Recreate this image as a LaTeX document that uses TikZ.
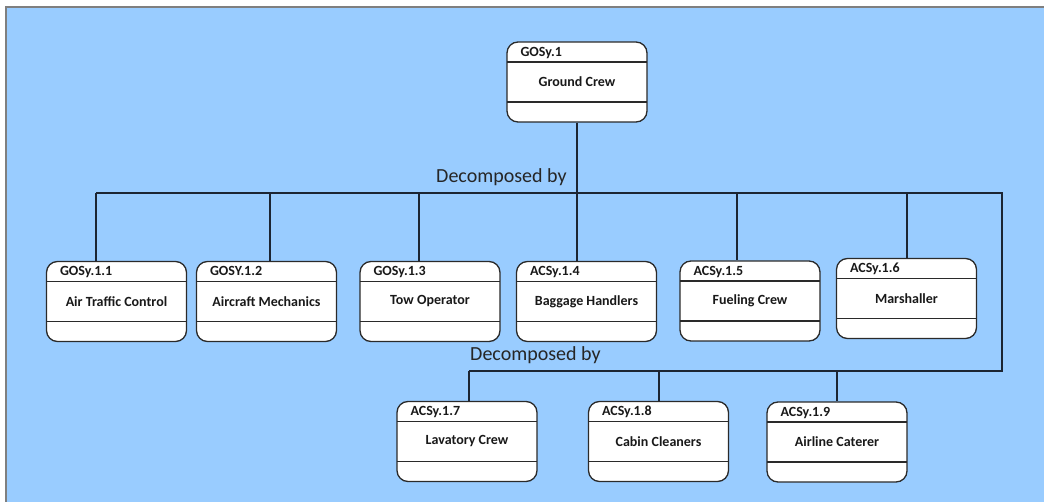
\documentclass[tikz,border=0pt]{standalone}
\usepackage{fontspec}
\setmainfont{Carlito}
\definecolor{bgblue}{HTML}{99CCFF}
\definecolor{linedark}{HTML}{1C2533}
\definecolor{boxline}{HTML}{2A2A2A}
\definecolor{framegray}{HTML}{7F7F7F}
\begin{document}
\begin{tikzpicture}[x=1pt,y=-1pt,
  sysbox/.style={draw=boxline, line width=1.3pt, fill=white, rounded corners=11pt,
    minimum width=140pt, minimum height=80pt, inner sep=0pt,
    font=\fontsize{14}{16}\selectfont\bfseries, text=black!90,
    path picture={
      \draw[boxline, line width=1.1pt]
        ([yshift=-20pt]path picture bounding box.north west) -- ([yshift=-20pt]path picture bounding box.north east)
        ([yshift=20pt]path picture bounding box.south west) -- ([yshift=20pt]path picture bounding box.south east);
    }},
  hdr/.style={label={[anchor=base west, xshift=14pt, yshift=-15pt, inner sep=0pt, text=black!90,
    font=\fontsize{14}{16}\selectfont\bfseries]north west:#1}},
  conn/.style={draw=linedark, line width=1.6pt},
  decomp/.style={anchor=base west, inner sep=0pt, font=\fontsize{20}{24}\selectfont, text=black!85}
]
\useasboundingbox (0,0) rectangle (1044,502);
\fill[white] (0,0) rectangle (1044,502);
\fill[bgblue] (6,7) rectangle (1044,502);
\draw[framegray, line width=1.2pt] (6,502) -- (6,7) -- (1044,7);

% boxes
\node[sysbox, hdr=GOSy.1] (gc) at (577,82) {Ground Crew};
\node[sysbox, hdr=GOSy.1.1] (b1) at (116.5,301.5) {Air Traffic Control};
\node[sysbox, hdr=GOSY.1.2] (b2) at (266.5,301.5) {Aircraft Mechanics};
\node[sysbox, hdr=GOSy.1.3] (b3) at (430,301.5) {Tow Operator};
\node[sysbox, hdr=ACSy.1.4] (b4) at (586.5,301.5) {Baggage Handlers};
\node[sysbox, hdr=ACSy.1.5] (b5) at (750,301) {Fueling Crew};
\node[sysbox, hdr=ACSy.1.6] (b6) at (906.5,298.5) {Marshaller};
\node[sysbox, hdr=ACSy.1.7] (b7) at (467,441.5) {Lavatory Crew};
\node[sysbox, hdr=ACSy.1.8] (b8) at (658.5,441.5) {Cabin Cleaners};
\node[sysbox, hdr=ACSy.1.9] (b9) at (837,442) {Airline Caterer};

% labels
\node[decomp] (d1) at (436,183) {Decomposed by};
\node[decomp] (d2) at (470,361) {Decomposed by};

% junction coordinates
\coordinate (hL) at (96,193);
\coordinate (hR) at (1002,193);
\coordinate (h2R) at (1002,371);
\coordinate (h2L) at (469,371);
\coordinate (j1) at (96,193);
\coordinate (j2) at (270,193);
\coordinate (j3) at (419,193);
\coordinate (j4) at (577,193);
\coordinate (j5) at (737,193);
\coordinate (j6) at (907,193);
\coordinate (k7) at (469,371);
\coordinate (k8) at (659,371);
\coordinate (k9) at (837,371);

% connectors
\draw[conn] (gc.south) -- (j4);
\draw[conn] (hL) -- (hR) -- (h2R) -- (h2L);
\draw[conn] (j1) -- (j1 |- b1.north);
\draw[conn] (j2) -- (j2 |- b2.north);
\draw[conn] (j3) -- (j3 |- b3.north);
\draw[conn] (j4) -- (j4 |- b4.north);
\draw[conn] (j5) -- (j5 |- b5.north);
\draw[conn] (j6) -- (j6 |- b6.north);
\draw[conn] (k7) -- (k7 |- b7.north);
\draw[conn] (k8) -- (k8 |- b8.north);
\draw[conn] (k9) -- (k9 |- b9.north);
\end{tikzpicture}
\end{document}
